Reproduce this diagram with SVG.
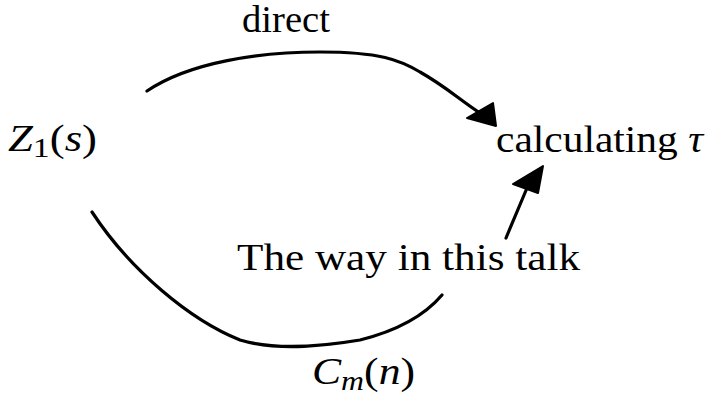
<svg xmlns="http://www.w3.org/2000/svg" width="710" height="397" viewBox="0 0 710 397">
<style>
.t{font-family:"Liberation Serif","DejaVu Serif",serif;fill:#000;font-size:37px}
.i{font-style:italic}
.c{fill:none;stroke:#000;stroke-width:3.2;stroke-linecap:round;stroke-linejoin:round}
.h{fill:#000;stroke:#000;stroke-width:2;stroke-linejoin:round}
</style>
<rect width="710" height="397" fill="#fff"/>
<g id="connectors">
<path class="c" d="M147,91 C190,62 260,52 320,52 C380,52 400,60 420,72 C445,86 460,100 480,113"/>
<polygon class="h" points="467,118 493,103 496,126"/>
<path class="c" d="M92,212 C130,270 190,320 240,340 C280,352 330,345 360,340 C400,330 425,315 442,295"/>
<path class="c" d="M506,238 L527,188"/>
<polygon class="h" points="513,184 543,166 538,193"/>
</g>
<g id="node-z1">
<text class="t" x="8" y="151" font-size="40" textLength="89" lengthAdjust="spacingAndGlyphs"><tspan class="i">Z</tspan><tspan font-size="28" dy="6">1</tspan><tspan dy="-6">(</tspan><tspan class="i">s</tspan>)</text>
</g>
<g id="node-calc">
<text class="t" x="496" y="152" textLength="207" lengthAdjust="spacingAndGlyphs">calculating <tspan class="i">τ</tspan></text>
</g>
<g id="label-direct">
<text class="t" x="242" y="32" textLength="88" lengthAdjust="spacingAndGlyphs">direct</text>
</g>
<g id="label-way">
<text class="t" x="237" y="270" textLength="343" lengthAdjust="spacingAndGlyphs">The way in this talk</text>
</g>
<g id="label-cm">
<text class="t" x="312" y="384" font-size="38" textLength="103" lengthAdjust="spacingAndGlyphs"><tspan class="i">C</tspan><tspan class="i" font-size="27" dy="6">m</tspan><tspan dy="-6">(</tspan><tspan class="i">n</tspan>)</text>
</g>
</svg>
